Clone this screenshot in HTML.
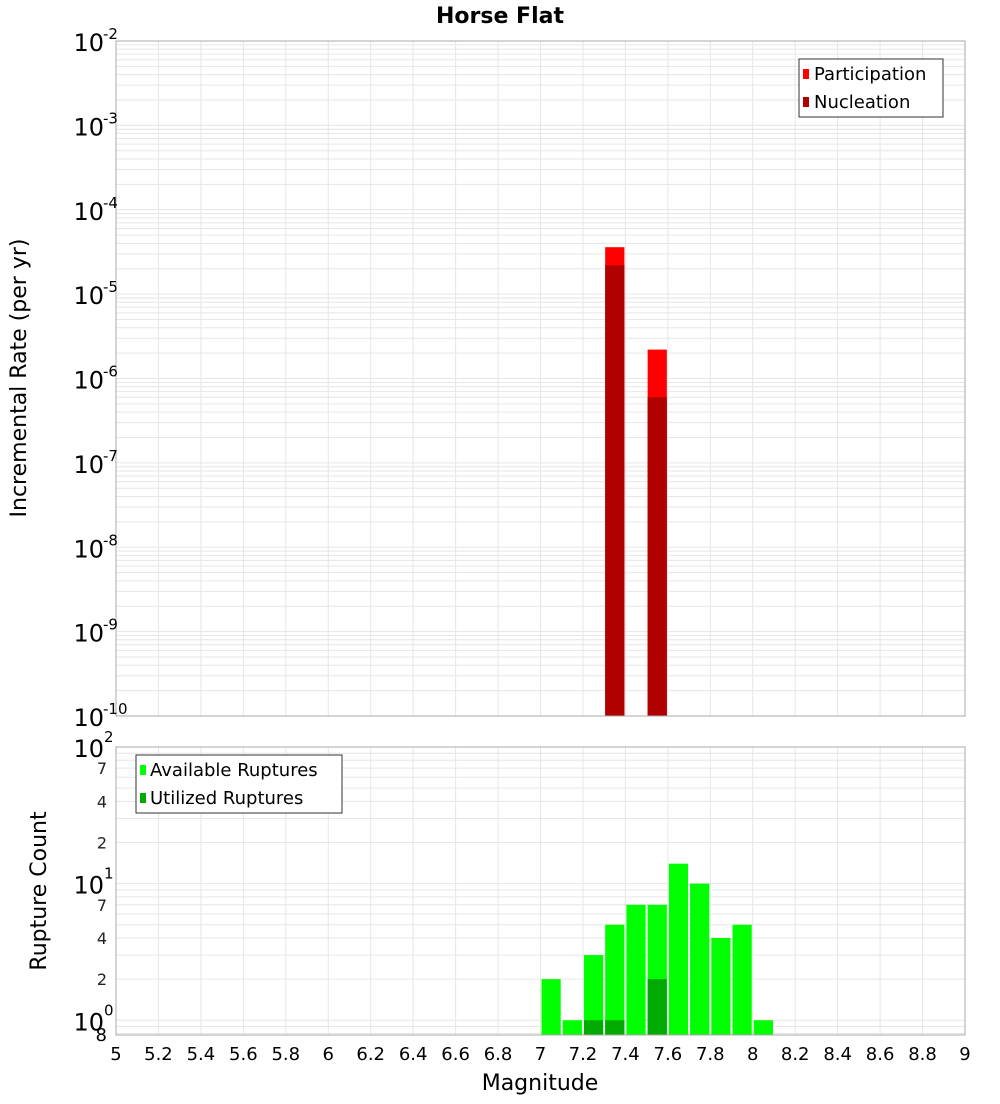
<!DOCTYPE html>
<html><head><meta charset="utf-8"><style>
body{margin:0;background:#fff;font-family:"DejaVu Sans","Liberation Sans",sans-serif}
svg text{font-family:"DejaVu Sans","Liberation Sans",sans-serif}
</style></head><body>
<svg id="c" width="1000" height="1100" xmlns="http://www.w3.org/2000/svg">
<text x="500" y="23" text-anchor="middle" font-size="22" font-weight="bold">Horse Flat</text>
<g id="topPlot"></g>
<g id="botPlot"></g>
<text transform="translate(26,378) rotate(-90)" text-anchor="middle" font-size="22">Incremental Rate (per yr)</text>
<text transform="translate(46,891) rotate(-90)" text-anchor="middle" font-size="22">Rupture Count</text>
<text x="540" y="1090" text-anchor="middle" font-size="22">Magnitude</text>
</svg>
<script>
const rateBins=[7.3,7.5];
const participation=[3.6e-5,2.2e-6];
const nucleation=[2.2e-5,6e-7];
const countBins=[7.0,7.1,7.2,7.3,7.4,7.5,7.6,7.7,7.8,7.9,8.0];
const available=[2,1,3,5,7,7,14,10,4,5,1];
const utilBins=[7.2,7.3,7.5];
const utilized=[1,1,2];
const xTicks=[5,5.2,5.4,5.6,5.8,6,6.2,6.4,6.6,6.8,7,7.2,7.4,7.6,7.8,8,8.2,8.4,8.6,8.8,9];
const rateDecades=[-10,-9,-8,-7,-6,-5,-4,-3,-2];
const countMinor=[2,4,7,20,40,70];

const NS="http://www.w3.org/2000/svg";
const L=116,R=965;
const X=m=>L+(m-5)/4*(R-L);
const T0=41,T1=716;
const Yt=v=>T0+(-2-Math.log10(v))/8*(T1-T0);
const B0=747,B1=1035,cmin=0.78;
const Yb=v=>B0+(2-Math.log10(v))/(2-Math.log10(cmin))*(B1-B0);
function el(p,t,a,txt){const e=document.createElementNS(NS,t);for(const k in a)e.setAttribute(k,a[k]);if(txt!=null)e.textContent=txt;p.appendChild(e);return e;}
const topG=document.getElementById('topPlot'),botG=document.getElementById('botPlot');

for(let d=-10;d<-2;d++)for(let i=1;i<10;i++){const y=Yt(i*Math.pow(10,d));if(y<T0||y>T1)continue;
 const g=el(topG,'line',{x1:L,x2:R,y1:y,y2:y,stroke:'#e6e6e6','stroke-width':1});
 
 }
xTicks.forEach(t=>{const g=el(topG,'line',{x1:X(t),x2:X(t),y1:T0,y2:T1,stroke:'#e6e6e6'});
 
 
 const g2=el(botG,'line',{x1:X(t),x2:X(t),y1:B0,y2:B1,stroke:'#e6e6e6'});
 
 });
rateBins.forEach((m,i)=>{
 const p=el(topG,'rect',{x:X(m)+1,y:Yt(participation[i]),width:X(m+0.1)-X(m)-2,height:T1-Yt(participation[i]),fill:'#ff0000'});
 
 
 const n=el(topG,'rect',{x:X(m)+1,y:Yt(nucleation[i]),width:X(m+0.1)-X(m)-2,height:T1-Yt(nucleation[i]),fill:'#b00000'});
 
 });
el(topG,'rect',{x:L,y:T0,width:R-L,height:T1-T0,fill:'none',stroke:'#aaa'});
rateDecades.forEach(d=>{const y=Yt(Math.pow(10,d));
 const t=el(topG,'text',{x:104,y:y+10,'text-anchor':'end','font-size':24},'10');
 
 
 el(topG,'text',{x:103,y:y-2,'font-size':15},String(d));});
const lg=el(topG,'g',{});


el(lg,'rect',{x:799,y:59,width:144,height:58,fill:'#fff',stroke:'#333'});
el(lg,'rect',{x:803,y:69,width:6,height:10,fill:'#ff0000'});
el(lg,'text',{x:814,y:80,'font-size':18},'Participation');
el(lg,'rect',{x:803,y:97,width:6,height:10,fill:'#b00000'});
el(lg,'text',{x:814,y:108,'font-size':18},'Nucleation');

for(let d=-1;d<2;d++)for(let i=1;i<10;i++){const y=Yb(i*Math.pow(10,d));if(y<B0||y>B1)continue;
 const g=el(botG,'line',{x1:L,x2:R,y1:y,y2:y,stroke:'#e6e6e6'});
 
 }
countBins.forEach((m,i)=>{const b=el(botG,'rect',{x:X(m)+1,y:Yb(available[i]),width:X(m+0.1)-X(m)-2,height:B1-Yb(available[i]),fill:'#00ff00'});
 
 });
utilBins.forEach((m,i)=>{const b=el(botG,'rect',{x:X(m)+1,y:Yb(utilized[i]),width:X(m+0.1)-X(m)-2,height:B1-Yb(utilized[i]),fill:'#00aa00'});
 
 });
el(botG,'rect',{x:L,y:B0,width:R-L,height:B1-B0,fill:'none',stroke:'#aaa'});
[0,1,2].forEach(d=>{const y=Yb(Math.pow(10,d));
 const t=el(botG,'text',{x:104,y:y+10,'text-anchor':'end','font-size':24},'10');
 
 
 el(botG,'text',{x:104,y:y-5,'font-size':15},String(d));});
countMinor.forEach(v=>{const t=el(botG,'text',{x:107,y:Yb(v)+6,'text-anchor':'end','font-size':16,fill:'#222'},String(v).charAt(0));
 
 });
el(botG,'text',{x:107,y:1041,'text-anchor':'end','font-size':18},'8');
xTicks.forEach(t=>{const e=el(botG,'text',{x:X(t),y:1060,'text-anchor':'middle','font-size':18},String(t));
 
 });
const bl=el(botG,'g',{});


el(bl,'rect',{x:136,y:755,width:206,height:58,fill:'#fff',stroke:'#333'});
el(bl,'rect',{x:140,y:765,width:6,height:10,fill:'#00ff00'});
el(bl,'text',{x:150,y:776,'font-size':18},'Available Ruptures');
el(bl,'rect',{x:140,y:793,width:6,height:10,fill:'#00aa00'});
el(bl,'text',{x:150,y:804,'font-size':18},'Utilized Ruptures');
</script>
</body></html>
